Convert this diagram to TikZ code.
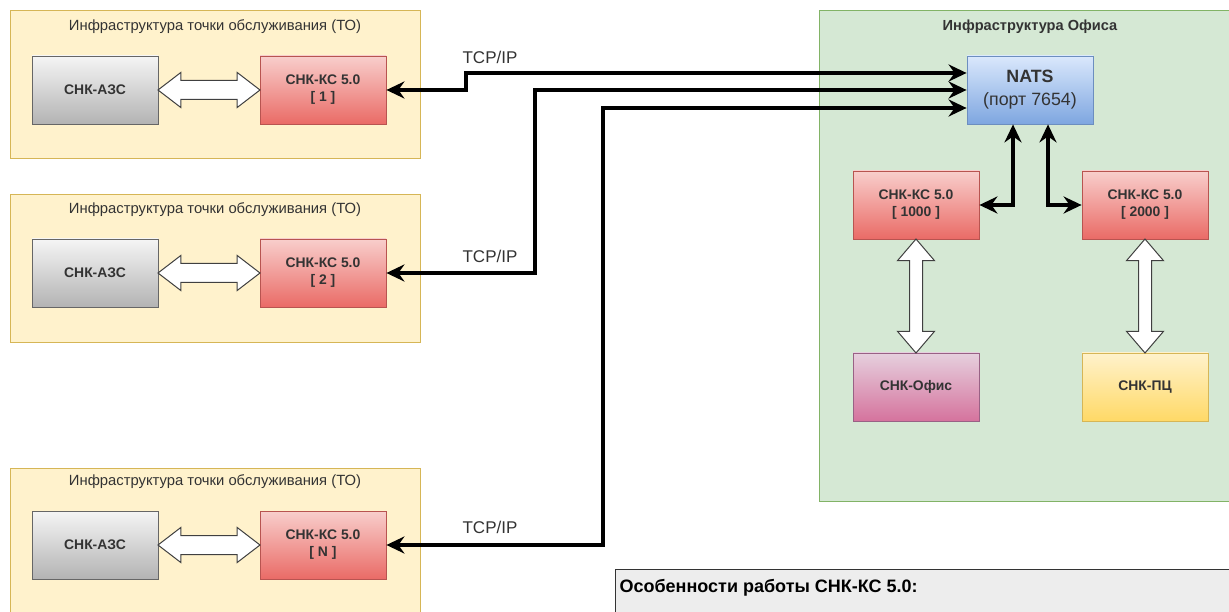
\documentclass[tikz,border=0pt]{standalone}
\usepackage{fontspec}
\setmainfont{Liberation Sans}
\usetikzlibrary{arrows.meta,shapes.arrows,calc}

\definecolor{tofill}{HTML}{FFF2CC}
\definecolor{toline}{HTML}{D6B656}
\definecolor{offill}{HTML}{D5E8D4}
\definecolor{ofline}{HTML}{82B366}
\definecolor{txt}{HTML}{333333}
\definecolor{graytop}{HTML}{F5F5F5}
\definecolor{graybot}{HTML}{B3B3B3}
\definecolor{grayline}{HTML}{666666}
\definecolor{redtop}{HTML}{F8CECC}
\definecolor{redbot}{HTML}{EA6B66}
\definecolor{redline}{HTML}{B85450}
\definecolor{bluetop}{HTML}{DAE8FC}
\definecolor{bluebot}{HTML}{7EA6E0}
\definecolor{blueline}{HTML}{6C8EBF}
\definecolor{pinktop}{HTML}{E6D0DE}
\definecolor{pinkbot}{HTML}{D5739D}
\definecolor{pinkline}{HTML}{996185}
\definecolor{pcbot}{HTML}{FFD966}

\begin{document}
\begin{tikzpicture}[
  x=1pt, y=1pt,
  >={Stealth[length=18pt,width=17pt,inset=6pt]},
  zone/.style={draw=toline,fill=tofill,line width=0.8pt},
  zonetitle/.style={font=\fontsize{14.8}{17}\selectfont,text=txt},
  box/.style={draw,line width=0.8pt,minimum width=126pt,minimum height=68pt,inner sep=0,align=center,
    font=\fontsize{13.9}{17}\selectfont\bfseries,text=txt},
  azs/.style={box,draw=grayline,top color=graytop,bottom color=graybot},
  ks/.style={box,draw=redline,top color=redtop,bottom color=redbot},
  nats/.style={box,draw=blueline,top color=bluetop,bottom color=bluebot,
    font=\fontsize{17.8}{23}\selectfont},
  ofis/.style={box,draw=pinkline,top color=pinktop,bottom color=pinkbot},
  pc/.style={box,draw=toline,top color=tofill,bottom color=pcbot},
  link/.style={<->,line width=3.2pt},
  hollow/.style={double arrow,draw=black!75,line width=1pt,fill=white,inner xsep=0,inner ysep=9pt,
    double arrow head extend=8pt,double arrow tip angle=75},
  tcp/.style={font=\fontsize{17}{20}\selectfont,text=txt}
  ]

  \useasboundingbox (0,0) rectangle (1229,611);

  % service points
  \foreach \y in {453, 269, -5} {
    \draw[zone] (10,\y) rectangle (420,\y+148);
  }
  \node[zonetitle] (title1) at (215,584) {Инфраструктура точки обслуживания (ТО)};
  \node[zonetitle] (title2) at (215,401) {Инфраструктура точки обслуживания (ТО)};
  \node[zonetitle] (title3) at (215,129) {Инфраструктура точки обслуживания (ТО)};

  \node[azs] (azs1) at (95,521) {СНК-АЗС};
  \node[ks] (ks1) at (323,521) {СНК-КС 5.0\\{[ 1 ]}};
  \node[azs] (azs2) at (95,338) {СНК-АЗС};
  \node[ks] (ks2) at (323,338) {СНК-КС 5.0\\{[ 2 ]}};
  \node[azs] (azs3) at (95,66) {СНК-АЗС};
  \node[ks] (ks3) at (323,66) {СНК-КС 5.0\\{[ N ]}};

  \foreach \n in {1,2,3}
    \node[hollow,minimum height=102pt] (ha\n) at ($(azs\n.east)!0.5!(ks\n.west)$) {};

  % office
  \draw[draw=ofline,fill=offill,line width=0.8pt] (819,110) rectangle (1240,601);
  \node[zonetitle,font=\fontsize{14.6}{17}\selectfont\bfseries] (otitle) at (1030,584) {Инфраструктура Офиса};

  \node[nats] (nats) at (1030,521) {\textbf{NATS}\\(порт 7654)};
  \node[ks] (ks1000) at (916,406) {СНК-КС 5.0\\{[ 1000 ]}};
  \node[ks] (ks2000) at (1145,406) {СНК-КС 5.0\\{[ 2000 ]}};
  \node[ofis] (office) at (916,224) {СНК-Офис};
  \node[pc] (pc) at (1145,224) {СНК-ПЦ};

  \node[hollow,rotate=90,inner ysep=6pt,minimum height=114pt,double arrow head extend=12pt,
    double arrow tip angle=81] (hv1) at ($(ks1000.south)!0.5!(office.north)$) {};
  \node[hollow,rotate=90,inner ysep=6pt,minimum height=114pt,double arrow head extend=12pt,
    double arrow tip angle=81] (hv2) at ($(ks2000.south)!0.5!(pc.north)$) {};

  \draw[link] ([xshift=-17pt]nats.south) |- (ks1000.east);
  \draw[link] ([xshift=18pt]nats.south) |- (ks2000.west);

  % TCP/IP lines
  \draw[link] (ks1.east) -- (466,521) -- (466,538) -- ([yshift=17pt]nats.west);
  \draw[link] (ks2.east) -- (535,338) -- (535,521) -- (nats.west);
  \draw[link] (ks3.east) -- (603,66) -- (603,503) -- ([yshift=-18pt]nats.west);

  \node[tcp] (tcp1) at (490,554) {TCP/IP};
  \node[tcp] (tcp2) at (490,355) {TCP/IP};
  \node[tcp] (tcp3) at (490,84) {TCP/IP};

  % notes
  \draw[draw=black!80,fill=black!7,line width=0.8pt] (615,42) rectangle (1240,-5);
  \node[anchor=west,font=\fontsize{18}{21}\selectfont\bfseries,text=black] (notes) at (616,23)
    {Особенности работы СНК-КС 5.0:};

\end{tikzpicture}
\end{document}
